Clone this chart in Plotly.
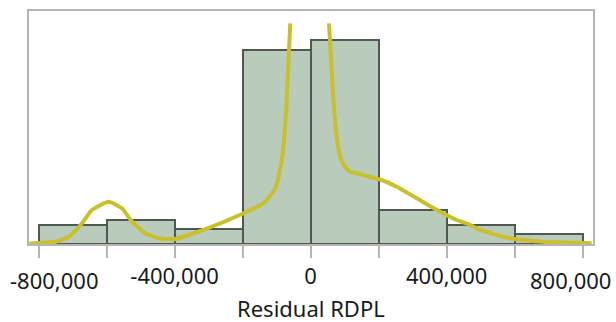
import plotly.graph_objects as go

# Histogram data
bin_edges = [-800000, -600000, -400000, -200000, 0, 200000, 400000, 600000, 800000]
counts = [4, 5, 3, 40, 42, 7, 4, 2]

# Density curve (left branch and right branch, clipped near peak)
curve_left_x = [-827000, -819000, -750000, -711000, -672000, -643000, -594000, -555000,
                -525000, -486000, -447000, -420000, -398000, -315000, -197000, -139000,
                -129000, -104000, -90000, -82000, -72000, -65000, -60000]
curve_left_y = [0.1, 0.14, 0.47, 1.5, 4.27, 7.0, 8.72, 7.36, 4.6, 2.21, 1.18, 0.98,
                1.02, 2.89, 6.33, 8.39, 9.07, 11.5, 15.3, 18.8, 27.6, 37.9, 45.5]
curve_right_x = [54000, 60000, 69000, 82000, 87000, 101000, 116000, 136000, 155000,
                 204000, 253000, 312000, 371000, 429000, 463000, 498000, 586000,
                 684000, 772000, 826000]
curve_right_y = [45.5, 37.9, 27.6, 19.4, 18.0, 15.9, 14.9, 14.6, 14.2, 13.3, 11.8,
                 9.42, 7.01, 4.95, 4.12, 2.89, 1.18, 0.47, 0.27, 0.14]

tick_vals = [-800000, -600000, -400000, -200000, 0, 200000, 400000, 600000, 800000]
tick_text = ["", "", "-400,000", "", "0", "", "400,000", "", ""]
edge_labels = ["-800,000", "800,000"]
x_title = "Residual RDPL"

centers = [(a + b) / 2 for a, b in zip(bin_edges[:-1], bin_edges[1:])]
widths = [b - a for a, b in zip(bin_edges[:-1], bin_edges[1:])]

FONT = "Noto Sans, Open Sans, sans-serif"
TXT = "#1a1a1a"

fig = go.Figure()
fig.add_trace(go.Bar(
    x=centers, y=counts, width=widths,
    marker=dict(color="#b9cbbb", line=dict(color="#4f5952", width=2)),
    hoverinfo="skip",
))
for cx, cy in [(curve_left_x, curve_left_y), (curve_right_x, curve_right_y)]:
    fig.add_trace(go.Scatter(
        x=cx, y=cy, mode="lines",
        line=dict(color="#c9c02b", width=4, shape="spline", smoothing=0.5),
        hoverinfo="skip",
    ))

fig.update_layout(
    width=616, height=322,
    margin=dict(l=29, r=23, t=11, b=78),
    plot_bgcolor="white", paper_bgcolor="white",
    showlegend=False,
    font=dict(family=FONT, color=TXT, size=22),
    bargap=0,
)
fig.update_xaxes(
    range=[-828000, 830000],
    tickvals=tick_vals, ticktext=tick_text,
    ticks="outside", ticklen=12, tickwidth=2, tickcolor="#b5b5b5",
    showline=True, linecolor="#b5b5b5", linewidth=2, mirror=True,
    showgrid=False, zeroline=False, automargin=False,
    tickfont=dict(size=22, family=FONT, color=TXT),
)
fig.update_yaxes(
    range=[0, 48.04],
    showticklabels=False, ticks="",
    showline=True, linecolor="#b5b5b5", linewidth=2, mirror=True,
    showgrid=False, zeroline=False, automargin=False,
)

# edge tick labels, kept inside the page as in the original
fig.add_annotation(text=edge_labels[0], xref="paper", yref="paper", x=0, y=0,
                   xanchor="left", yanchor="middle", xshift=-21, yshift=-36,
                   showarrow=False, font=dict(size=22, family=FONT, color=TXT))
fig.add_annotation(text=edge_labels[1], xref="paper", yref="paper", x=1, y=0,
                   xanchor="right", yanchor="middle", xshift=20, yshift=-36,
                   showarrow=False, font=dict(size=22, family=FONT, color=TXT))
fig.add_annotation(text=x_title, xref="paper", yref="paper", x=0.5, y=0,
                   xanchor="center", yanchor="middle", yshift=-64,
                   showarrow=False, font=dict(size=22, family=FONT, color=TXT))

fig.write_html("out.html",
               config={"displayModeBar": False},
               post_script="document.body.style.margin='0';document.body.style.overflow='hidden';")
